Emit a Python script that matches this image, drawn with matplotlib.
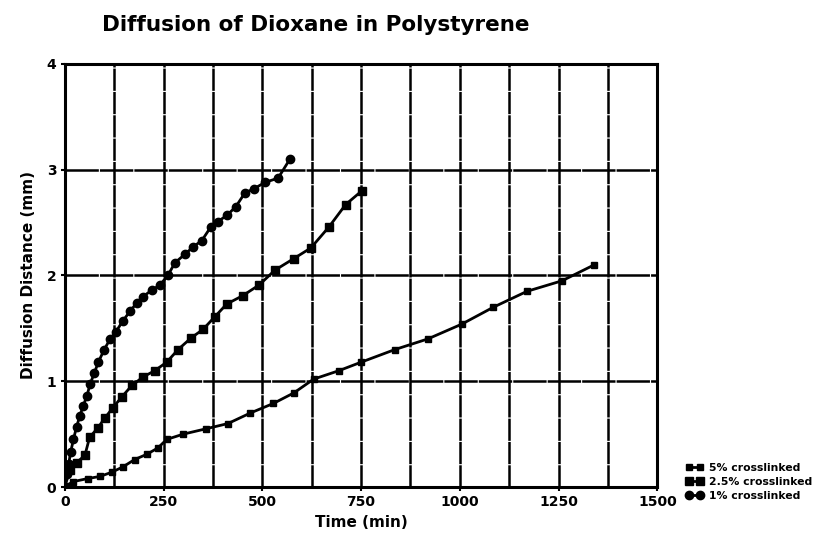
import matplotlib.pyplot as plt
import numpy as np

# 1% crosslinked
t_1 = [0, 5, 10, 15, 22, 30, 38, 47, 56, 64, 75, 85, 100, 115, 130, 147, 165, 182,
       198, 220, 241, 261, 279, 304, 325, 347, 370, 388, 411, 433, 456, 479, 507, 540, 570]
d_1 = [0, 0.12, 0.22, 0.33, 0.45, 0.57, 0.67, 0.77, 0.86, 0.97, 1.08, 1.18, 1.3, 1.4,
       1.47, 1.57, 1.66, 1.74, 1.8, 1.86, 1.91, 2.0, 2.12, 2.2, 2.27, 2.33, 2.46, 2.51,
       2.57, 2.65, 2.78, 2.82, 2.88, 2.92, 3.1]

# 2.5% crosslinked
t_25 = [0, 13, 30, 51, 63, 84, 101, 122, 144, 170, 198, 228, 258, 287, 320, 350, 380,
        410, 451, 492, 532, 580, 623, 669, 711, 752]
d_25 = [0, 0.16, 0.23, 0.30, 0.47, 0.56, 0.65, 0.75, 0.85, 0.96, 1.04, 1.10, 1.18, 1.30,
        1.41, 1.49, 1.61, 1.73, 1.81, 1.91, 2.05, 2.16, 2.26, 2.46, 2.67, 2.8]

# 5% crosslinked
t_5 = [0, 20, 58, 89, 119, 147, 177, 208, 236, 258, 300, 357, 413, 470, 528, 580, 630,
       694, 750, 836, 919, 1005, 1085, 1170, 1259, 1340]
d_5 = [0, 0.05, 0.08, 0.10, 0.14, 0.19, 0.26, 0.31, 0.37, 0.45, 0.50, 0.55, 0.60, 0.70,
       0.79, 0.89, 1.02, 1.10, 1.18, 1.30, 1.40, 1.54, 1.70, 1.85, 1.95, 2.1]

x_ticks = [0, 250, 500, 750, 1000, 1250, 1500]
y_ticks = [0, 1, 2, 3, 4]

plt.rcParams['lines.scale_dashes'] = False

fig = plt.figure(figsize=(8.3, 5.46), dpi=100)
ax = fig.add_axes([0.078, 0.108, 0.714, 0.775])

l5, = ax.plot(t_5, d_5, color='black', lw=2, marker='s', ms=5, label='5% crosslinked')
l25, = ax.plot(t_25, d_25, color='black', lw=2, marker='s', ms=6, label='2.5% crosslinked')
l1, = ax.plot(t_1, d_1, color='black', lw=2, marker='o', ms=6, label='1% crosslinked')

ax.set_xlim(0, 1500)
ax.set_ylim(0, 4)
ax.set_xticks(x_ticks)
ax.set_xticks(np.arange(0, 1501, 125), minor=True)
ax.set_yticks(y_ticks)
ax.grid(True, which='both', axis='x', color='black', lw=1.8, ls=(0, (16, 0.8)))
ax.grid(True, which='major', axis='y', color='black', lw=1.8, ls=(0, (24, 0.8)))
ax.set_axisbelow(True)
ax.tick_params(which='major', length=3, width=1.5, labelsize=10, pad=3)
ax.tick_params(which='minor', length=0)
for lab in ax.get_xticklabels() + ax.get_yticklabels():
    lab.set_fontweight('bold')
for s in ax.spines.values():
    s.set_linewidth(2.2)

ax.set_xlabel('Time (min)', fontsize=11, fontweight='bold', labelpad=4)
ax.set_ylabel('Diffusion Distance (mm)', fontsize=11, fontweight='bold', labelpad=8)
fig.text(0.381, 0.955, 'Diffusion of Dioxane in Polystyrene', ha='center', va='center',
         fontsize=15.5, fontweight='bold')

leg = fig.legend(handles=[l5, l25, l1], loc='lower left', bbox_to_anchor=(0.815, 0.065),
                 frameon=False, numpoints=2, handlelength=1.6,
                 prop={'weight': 'bold', 'size': 7.8}, labelspacing=0.35, handletextpad=0.5)

fig.savefig('out.png', dpi=100)
